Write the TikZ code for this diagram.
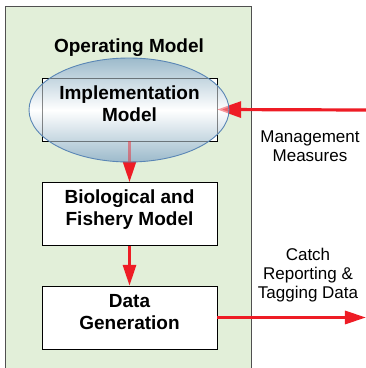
\documentclass[tikz,border=0pt]{standalone}
\usepackage{fontspec}
\setmainfont{Liberation Sans}
\usetikzlibrary{arrows.meta}

\definecolor{omgreen}{HTML}{E2EFD9}
\definecolor{omframe}{HTML}{505050}
\definecolor{flowred}{HTML}{EE1C25}
\definecolor{ellblue}{HTML}{5A86B5}
\definecolor{shadeblue}{HTML}{9CBACB}

\tikzset{
  modelbox/.style={draw=black, fill=white, minimum width=175pt, minimum height=63pt},
  modeltext/.style={align=center, text depth=12pt, font=\fontsize{19}{22}\selectfont\bfseries},
  flowarrow/.style={draw=flowred, line width=3.2pt, -{Triangle[length=21pt,width=13pt]}},
  sidelabel/.style={align=center, font=\fontsize{17}{19}\selectfont}
}

\begin{document}
\begin{tikzpicture}[x=1pt, y=1pt]
                \useasboundingbox (0,0) rectangle (366,368);
                \begin{scope}
                    \clip (0,0) rectangle (366,368);
                    \draw[omframe, fill=omgreen, line width=1pt] (6,-20) rectangle (252,362);
                \end{scope}
                \node (opmodel) at (129,316) [anchor=base, font=\fontsize{19}{22}\selectfont\bfseries] {Operating Model};

                \node (implbox) at (129.5,258.5) [modelbox] {};
                \node (biobox) at (129.5,154) [modelbox, modeltext] {Biological and\\Fishery Model};
                \node (databox) at (129.5,50.5) [modelbox, modeltext] {Data\\Generation};
                \coordinate (mgmtin) at (366,258);
                \coordinate (dataout) at (366,50.5);

                \draw[flowarrow] (implbox.south) -- (biobox.north);
                \draw[flowarrow] (biobox.south) -- (databox.north);
                \draw[flowarrow] (databox.east) -- (dataout);
                \draw[flowarrow, -{Triangle[length=24pt,width=16pt]}] (mgmtin) -- (implbox.east);

                % implementation ellipse over the box, what lies under it shows through faintly
                \shade[top color=shadeblue, bottom color=shadeblue, middle color=white]
                    (129,258) ellipse (100 and 52);
                \begin{scope}[opacity=0.45]
                    \clip (129,258) ellipse (100 and 52);
                    \draw[black] (implbox.north west) rectangle (implbox.south east);
                    \draw[flowarrow] (implbox.south) -- (biobox.north);
                    \draw[flowarrow, -{Triangle[length=24pt,width=16pt]}] (mgmtin) -- (implbox.east);
                \end{scope}
                \draw[ellblue, line width=0.9pt] (129,258) ellipse (100 and 52);
                \node (impltext) at (implbox) [modeltext] {Implementation\\Model};

                \node (mgmtlabel) at (310,222) [sidelabel] {Management\\Measures};
                \node (catchlabel) at (308,93) [sidelabel] {Catch\\Reporting \&\\Tagging Data};
            \end{tikzpicture}
\end{document}
